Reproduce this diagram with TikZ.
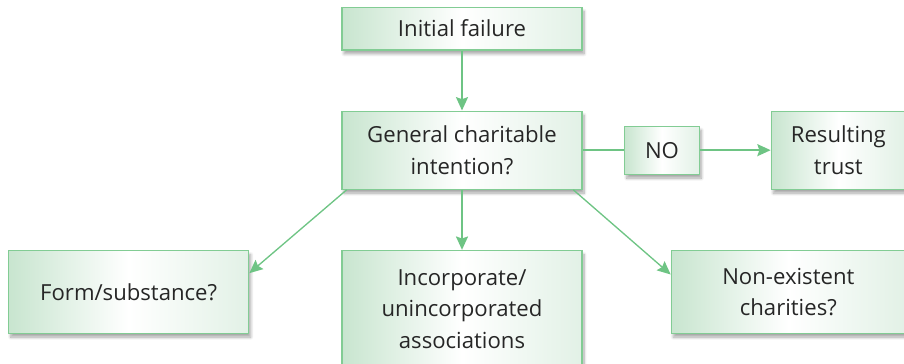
\documentclass[tikz,border=0pt]{standalone}
\usepackage{fontspec}
\setmainfont{Open Sans}
\usepackage{tikz}
\usetikzlibrary{positioning, arrows.meta, shadows.blur}
\definecolor{textColor}{RGB}{38, 38, 38}
\definecolor{boxLine}{RGB}{130, 204, 148}
\definecolor{boxLeft}{RGB}{200, 229, 207}
\definecolor{boxRight}{RGB}{226, 241, 230}
\definecolor{edgeColor}{RGB}{110, 196, 132}
\tikzset{
    flow_box/.style={
        rectangle,
        draw=boxLine,
        line width=1pt,
        left color=boxLeft,
        right color=boxRight,
        middle color=white,
        text=textColor,
        align=center,
        font=\fontsize{16.6}{23.6}\selectfont,
        inner sep=0pt,
        blur shadow={shadow xshift=1.5pt, shadow yshift=-3pt, shadow blur steps=8, shadow opacity=35}
    },
    flow_edge/.style={
        -{Stealth[length=10pt, width=9pt, inset=1.5pt]},
        line width=1.4pt,
        draw=edgeColor
    },
    side_edge/.style={
        flow_edge,
        line width=1pt
    }
}

\begin{document}
\begin{tikzpicture}[x=0.75pt, y=-0.75pt]
    \useasboundingbox (0,0) rectangle (904,364);

    \node[flow_box, minimum width=180pt, minimum height=32pt] (init) at (462,28.5) {Initial failure};
    \node[flow_box, minimum width=180pt, minimum height=58.5pt, below=45pt of init] (gci)
        {General charitable\\intention?};
    \node[flow_box, minimum width=56pt, minimum height=36pt, right=31pt of gci] (no) {NO};
    \node[flow_box, minimum width=100.5pt, minimum height=58.5pt, right=53pt of no] (res)
        {Resulting\\trust};
    \node[flow_box, minimum width=180pt, minimum height=88pt, below=45pt of gci] (inc)
        {Incorporate/\\unincorporated\\associations};
    \node[flow_box, minimum width=180pt, minimum height=62pt, anchor=north east]
        (form) at ([xshift=-69pt]inc.north west) {Form/substance?};
    \node[flow_box, minimum width=175.5pt, minimum height=62pt, anchor=north west]
        (non) at ([xshift=66pt]inc.north east) {Non-existent\\charities?};

    \draw[flow_edge] (init) -- (gci);
    \draw[draw=edgeColor, line width=1.2pt] (gci) -- (no);
    \draw[flow_edge, line width=1.2pt] (no) -- (res);
    \draw[flow_edge] (gci) -- (inc);
    \draw[side_edge] ([xshift=4pt]gci.south west) -- ([yshift=14pt]form.east);
    \draw[side_edge] ([xshift=-7pt]gci.south east) -- ([yshift=13pt]non.west);
\end{tikzpicture}
\end{document}
